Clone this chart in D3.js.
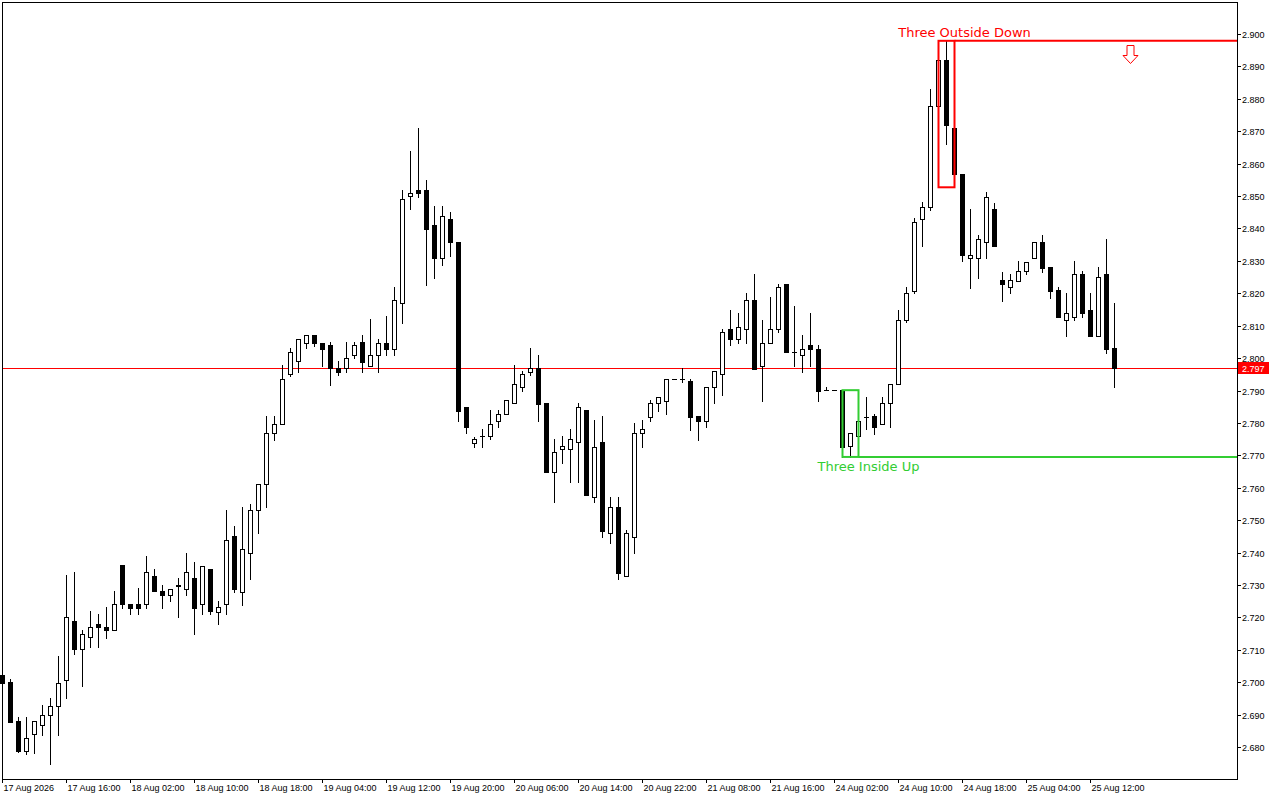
<!DOCTYPE html>
<html><head><meta charset="utf-8">
<script src="https://cdn.jsdelivr.net/npm/d3@7"></script>
<style>html,body{margin:0;padding:0;background:#fff;overflow:hidden}svg{display:block}</style>
</head><body>
<svg id="chart" width="1280" height="800"></svg>
<script>
const opens = [2.7022,2.7000,2.6879,2.6788,2.6840,2.6869,2.6900,2.6928,2.7008,2.7190,
2.7101,2.7138,2.7179,2.7170,2.7160,2.7361,2.7240,2.7240,2.7240,2.7329,
2.7280,2.7269,2.7298,2.7289,2.7320,2.7240,2.7349,2.7218,2.7240,2.7450,
2.7279,2.7400,2.7530,2.7610,2.7768,2.7798,2.7950,2.7990,2.8048,2.8070,
2.8048,2.8039,2.7968,2.7968,2.8008,2.8049,2.7977,2.8008,2.8048,2.8029,
2.8169,2.8499,2.8519,2.8518,2.8410,2.8308,2.8428,2.8358,2.7848,2.7739,
2.7759,2.7759,2.7806,2.7829,2.7860,2.7910,2.7958,2.7968,2.7861,2.7649,
2.7718,2.7718,2.7740,2.7840,2.7570,2.7741,2.7459,2.7539,2.7329,2.7448,
2.7768,2.7819,2.7860,2.7868,2.7937,2.7937,2.7928,2.7821,2.7806,2.7910,
2.7950,2.8089,2.8058,2.8089,2.8178,2.7977,2.8048,2.8089,2.8228,2.8018,
2.8008,2.8039,2.8029,2.7901,2.7901,2.7901,2.7728,2.7759,2.7819,2.7821,
2.7798,2.7860,2.7919,2.8119,2.8208,2.8428,2.8467,2.8778,2.8920,2.8709,
2.8568,2.8308,2.8308,2.8357,2.8460,2.8241,2.8218,2.8239,2.8268,2.8308,
2.8358,2.8281,2.8210,2.8119,2.8127,2.8259,2.8148,2.8068,2.8259,2.8031];
const highs = [2.7025,2.7009,2.6893,2.6893,2.6879,2.6929,2.6951,2.7080,2.7330,2.7340,
2.7160,2.7219,2.7211,2.7231,2.7282,2.7361,2.7240,2.7290,2.7389,2.7349,
2.7299,2.7289,2.7320,2.7400,2.7370,2.7360,2.7349,2.7250,2.7531,2.7481,
2.7539,2.7549,2.7610,2.7820,2.7820,2.7978,2.8030,2.8058,2.8070,2.8072,
2.8048,2.8049,2.7991,2.8049,2.8049,2.8070,2.8120,2.8059,2.8130,2.8219,
2.8519,2.8639,2.8709,2.8548,2.8469,2.8469,2.8451,2.8358,2.7848,2.7757,
2.7782,2.7840,2.7840,2.7870,2.7978,2.7959,2.8030,2.8009,2.7861,2.7750,
2.7759,2.7781,2.7860,2.7840,2.7809,2.7821,2.7570,2.7571,2.7469,2.7799,
2.7809,2.7870,2.7879,2.7937,2.7937,2.7968,2.7937,2.7821,2.7910,2.7959,
2.8089,2.8148,2.8140,2.8201,2.8259,2.8119,2.8187,2.8228,2.8228,2.8160,
2.8070,2.8140,2.8039,2.7910,2.7901,2.7901,2.7768,2.7821,2.7879,2.7829,
2.7879,2.7919,2.8148,2.8219,2.8431,2.8482,2.8830,2.8935,2.8979,2.8737,
2.8568,2.8460,2.8380,2.8511,2.8477,2.8266,2.8260,2.8299,2.8298,2.8358,
2.8380,2.8281,2.8220,2.8200,2.8299,2.8269,2.8200,2.8280,2.8369,2.8169];
const lows = [2.6995,2.6877,2.6785,2.6778,2.6780,2.6838,2.6749,2.6838,2.6950,2.7086,
2.6989,2.7108,2.7109,2.7137,2.7160,2.7229,2.7209,2.7209,2.7229,2.7280,
2.7229,2.7249,2.7200,2.7269,2.7149,2.7209,2.7209,2.7178,2.7209,2.7279,
2.7239,2.7319,2.7459,2.7539,2.7748,2.7798,2.7945,2.7958,2.8030,2.8038,
2.7976,2.7917,2.7948,2.7958,2.7999,2.7958,2.7977,2.7958,2.8008,2.8008,
2.8107,2.8459,2.8498,2.8227,2.8248,2.8288,2.8316,2.7806,2.7768,2.7726,
2.7726,2.7749,2.7788,2.7829,2.7860,2.7899,2.7948,2.7806,2.7649,2.7556,
2.7677,2.7618,2.7618,2.7578,2.7557,2.7448,2.7428,2.7319,2.7329,2.7399,
2.7726,2.7806,2.7837,2.7827,2.7937,2.7927,2.7778,2.7747,2.7788,2.7860,
2.7887,2.8039,2.8047,2.8047,2.7967,2.7868,2.8048,2.8079,2.8018,2.7977,
2.7958,2.7977,2.7868,2.7901,2.7901,2.7695,2.7695,2.7740,2.7780,2.7765,
2.7798,2.7788,2.7919,2.8111,2.8200,2.8347,2.8457,2.8698,2.8660,2.8527,
2.8299,2.8217,2.8246,2.8308,2.8347,2.8177,2.8200,2.8239,2.8259,2.8308,
2.8266,2.8186,2.8127,2.8068,2.8119,2.8127,2.8068,2.8068,2.8016,2.7910];
const closes = [2.6998,2.6877,2.6788,2.6829,2.6879,2.6900,2.6928,2.6999,2.7200,2.7101,
2.7150,2.7169,2.7169,2.7160,2.7241,2.7240,2.7229,2.7229,2.7339,2.7280,
2.7269,2.7289,2.7299,2.7339,2.7229,2.7360,2.7219,2.7231,2.7440,2.7289,
2.7410,2.7530,2.7610,2.7768,2.7798,2.7937,2.8018,2.8058,2.8070,2.8048,
2.8029,2.7968,2.7958,2.7999,2.8039,2.7989,2.8008,2.8048,2.8029,2.8178,
2.8490,2.8508,2.8508,2.8397,2.8308,2.8437,2.8357,2.7837,2.7788,2.7749,
2.7760,2.7798,2.7829,2.7870,2.7919,2.7951,2.7968,2.7859,2.7649,2.7709,
2.7728,2.7749,2.7848,2.7578,2.7727,2.7467,2.7539,2.7337,2.7459,2.7768,
2.7780,2.7860,2.7879,2.7937,2.7937,2.7937,2.7819,2.7806,2.7910,2.7959,
2.8079,2.8058,2.8097,2.8178,2.7967,2.8048,2.8089,2.8218,2.8018,2.8018,
2.8029,2.8029,2.7899,2.7901,2.7901,2.7726,2.7768,2.7806,2.7819,2.7788,
2.7860,2.7919,2.8119,2.8200,2.8419,2.8467,2.8778,2.8920,2.8719,2.8567,
2.8318,2.8318,2.8369,2.8498,2.8347,2.8228,2.8241,2.8268,2.8298,2.8358,
2.8279,2.8207,2.8127,2.8138,2.8259,2.8138,2.8068,2.8249,2.8029,2.7970];
const xTickLabels = ["17 Aug 2026","17 Aug 16:00","18 Aug 02:00","18 Aug 10:00","18 Aug 18:00",
"19 Aug 04:00","19 Aug 12:00","19 Aug 20:00","20 Aug 06:00","20 Aug 14:00","20 Aug 22:00",
"21 Aug 08:00","21 Aug 16:00","24 Aug 02:00","24 Aug 10:00","24 Aug 18:00","25 Aug 04:00","25 Aug 12:00"];
const xTickIndex = [0,8,16,24,32,40,48,56,64,72,80,88,96,104,112,120,128,136];
const priceTicks = [2.680,2.690,2.700,2.710,2.720,2.730,2.740,2.750,2.760,2.770,2.780,2.790,
2.800,2.810,2.820,2.830,2.840,2.850,2.860,2.870,2.880,2.890,2.900];
const currentPrice = 2.797;
const patternNames = ["Three Outside Down","Three Inside Up"];
const patternStart = [117,105];
const patternEnd = [119,107];
const patternDir = ["down","up"];
const patternColors = ["#ff0000","#32cd32"];

const svg = d3.select("#chart");
const L = 2, R = 1237, T = 2, B = 779;
const x = d3.scaleLinear().domain([0,139]).range([2,1114]);
const y = d3.scaleLinear().domain([2.68,2.90]).range([747,34]);
const font = "'Liberation Sans', Arial, sans-serif";

svg.append("rect").attr("x",0).attr("y",0).attr("width",1280).attr("height",800).attr("fill","#fff");

// current price line
const yc = Math.round(y(currentPrice))+0.5;
svg.append("line").attr("x1",L).attr("x2",R).attr("y1",yc).attr("y2",yc)
  .attr("stroke","#ff0000").attr("stroke-width",1);

// candles
const data = opens.map((o,i)=>({i,o,h:highs[i],l:lows[i],c:closes[i]}));
const g = svg.append("g");
data.forEach(d=>{
  const cx = Math.round(x(d.i))+0.5;
  const yh = Math.round(y(d.h)), yl = Math.round(y(d.l));
  const yt = Math.round(y(Math.max(d.o,d.c))), yb = Math.round(y(Math.min(d.o,d.c)));
  g.append("line").attr("x1",cx).attr("x2",cx).attr("y1",yh).attr("y2",yl+1)
    .attr("stroke","#000").attr("stroke-width",1);
  if (yb - yt < 1) {
    g.append("line").attr("x1",cx-2.5).attr("x2",cx+2.5).attr("y1",yt+0.5).attr("y2",yt+0.5)
      .attr("stroke","#000").attr("stroke-width",1);
  } else if (d.c >= d.o) {
    g.append("rect").attr("x",cx-2).attr("y",yt+0.5).attr("width",4).attr("height",yb-yt)
      .attr("fill","#fff").attr("stroke","#000").attr("stroke-width",1);
  } else {
    g.append("rect").attr("x",cx-2.5).attr("y",yt).attr("width",5).attr("height",yb-yt+1)
      .attr("fill","#000");
  }
});

// patterns
patternNames.forEach((name,p)=>{
  const a = patternStart[p], b = patternEnd[p];
  const hi = d3.max(highs.slice(a,b+1)), lo = d3.min(lows.slice(a,b+1));
  const x0 = Math.round(x(a))+0.5, x1 = Math.round(x(b))+0.5;
  const y0 = y(hi), y1 = y(lo);
  const col = patternColors[p];
  svg.append("rect").attr("x",x0).attr("y",y0).attr("width",x1-x0).attr("height",y1-y0)
    .attr("fill","none").attr("stroke",col).attr("stroke-width",2);
  const ly = patternDir[p]==="down" ? y0 : y1;
  svg.append("line").attr("x1",x1).attr("x2",R).attr("y1",ly).attr("y2",ly)
    .attr("stroke",col).attr("stroke-width",2);
  svg.append("text").attr("x",x1+10).attr("y",patternDir[p]==="down" ? y0-4 : y1+14)
    .attr("text-anchor","middle").attr("font-family","'DejaVu Sans', Verdana, sans-serif")
    .attr("font-size",13).attr("fill",col).text(name);
  if (patternDir[p]==="down") {
    const ax = Math.round(x(141))+0.5, at = Math.round(y0)+4.5;
    const pts = [[ax-3.5,at],[ax+3.5,at],[ax+3.5,at+10],[ax+7.5,at+10],[ax,at+18],[ax-7.5,at+10],[ax-3.5,at+10]];
    svg.append("polygon").attr("points",pts.map(q=>q.join(",")).join(" "))
      .attr("fill","#fff").attr("stroke",col).attr("stroke-width",1);
  }
});

// frame
svg.append("rect").attr("x",L+0.5).attr("y",T+0.5).attr("width",R-L).attr("height",B-T)
  .attr("fill","none").attr("stroke","#000").attr("stroke-width",1);

// right axis
priceTicks.forEach(v=>{
  const yy = Math.round(y(v))+0.5;
  svg.append("line").attr("x1",R).attr("x2",R+4).attr("y1",yy).attr("y2",yy).attr("stroke","#000");
  svg.append("text").attr("x",R+5).attr("y",yy).attr("dy","0.35em")
    .attr("font-family",font).attr("font-size",9).attr("fill","#000").text(v.toFixed(3));
});
// price tag
svg.append("rect").attr("x",R+1).attr("y",yc-6.5).attr("width",31).attr("height",12).attr("fill","#ff0000");
svg.append("text").attr("x",R+5).attr("y",yc).attr("dy","0.35em")
  .attr("font-family",font).attr("font-size",9).attr("fill","#fff").text(currentPrice.toFixed(3));

// bottom axis
xTickLabels.forEach((lab,i)=>{
  const xx = Math.round(x(xTickIndex[i]))+0.5;
  svg.append("line").attr("x1",xx).attr("x2",xx).attr("y1",B).attr("y2",B+4).attr("stroke","#000");
  svg.append("text").attr("x",xx+1).attr("y",B+12)
    .attr("font-family",font).attr("font-size",9).attr("fill","#000").text(lab);
});
</script>
</body></html>
